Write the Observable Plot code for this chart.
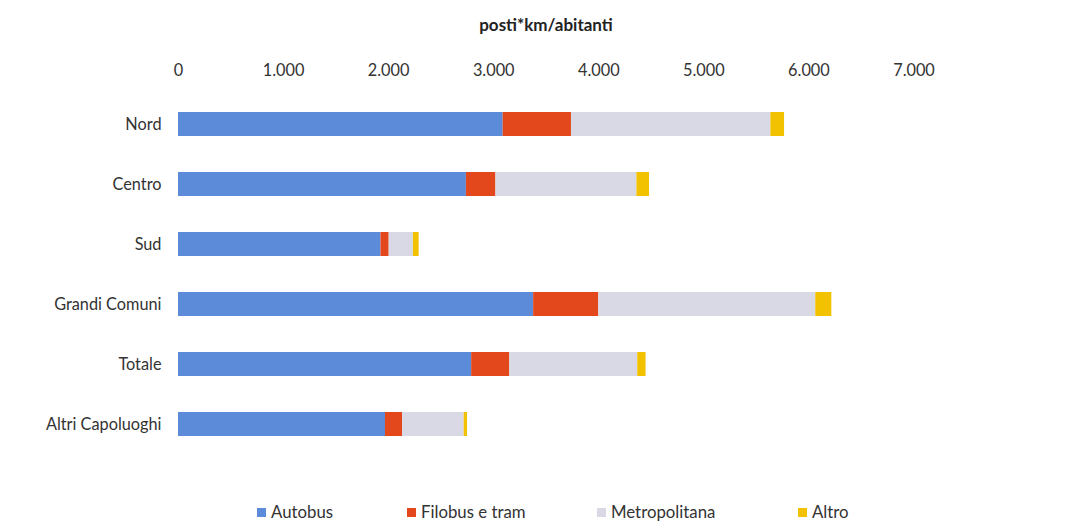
<!DOCTYPE html>
<html>
<head>
<meta charset="utf-8">
<script src="https://cdn.jsdelivr.net/npm/d3@7"></script>
<script src="https://cdn.jsdelivr.net/npm/@observablehq/plot@0.6"></script>
<style>
  body { margin: 0; background: #ffffff; font-family: Lato, "Open Sans", sans-serif; }
  #wrap { position: relative; width: 1081px; height: 528px; }
  #title { position: absolute; left: 0; top: 14px; width: 1092px; text-align: center; font-weight: bold; font-size: 17px; color: #222; }
  #chart { position: absolute; left: 0; top: 45px; }
  .leg { position: absolute; top: 501px; font-size: 16.8px; color: #333; white-space: nowrap; }
  .leg span.sw { display: inline-block; width: 9px; height: 9px; margin-right: 5px; vertical-align: 1px; }
</style>
</head>
<body>
<div id="wrap">
  <div id="title">posti*km/abitanti</div>
  <div id="chart"></div>
  <div id="legend"></div>
</div>
<script>
const categories = ["Nord", "Centro", "Sud", "Grandi Comuni", "Totale", "Altri Capoluoghi"];
const series = ["Autobus", "Filobus e tram", "Metropolitana", "Altro"];
const autobus = [3090, 2740, 1927, 3380, 2790, 1970];
const filobus = [650, 281, 78, 620, 363, 162];
const metropolitana = [1898, 1342, 231, 2065, 1218, 587];
const altro = [130, 120, 54, 153, 79, 32];
const colors = ["#5b8bd9", "#e2481c", "#d9d9e6", "#f2c200"];
const xTicks = [0, 1000, 2000, 3000, 4000, 5000, 6000, 7000];

const values = [autobus, filobus, metropolitana, altro];
const rows = [];
categories.forEach((c, i) => {
  series.forEach((s, j) => rows.push({category: c, series: s, value: values[j][i]}));
});

const itFormat = d3.formatLocale({decimal: ",", thousands: ".", grouping: [3], currency: ["", "€"]}).format(",");

const chart = Plot.plot({
  width: 1081,
  height: 440,
  marginLeft: 178,
  marginRight: 167.5,
  marginTop: 49,
  marginBottom: 31,
  style: {fontFamily: "Lato, 'Open Sans', sans-serif", fontSize: "16.3px", color: "#333", background: "transparent"},
  x: {domain: [0, 7000], axis: "top", ticks: xTicks, tickFormat: itFormat, tickSize: 0, tickPadding: 19, label: null},
  y: {domain: categories, paddingInner: 0.6, paddingOuter: 0.3, tickSize: 0, tickPadding: 17, label: null},
  color: {domain: series, range: colors},
  marks: [
    Plot.barX(rows, Plot.stackX({x: "value", y: "category", fill: "series", order: series}))
  ]
});
document.getElementById("chart").appendChild(chart);

const legPos = [257, 407, 597, 798];
const legend = document.getElementById("legend");
series.forEach((s, i) => {
  const d = document.createElement("div");
  d.className = "leg";
  d.style.left = legPos[i] + "px";
  d.innerHTML = `<span class="sw" style="background:${colors[i]}"></span>${s}`;
  legend.appendChild(d);
});
</script>
</body>
</html>
